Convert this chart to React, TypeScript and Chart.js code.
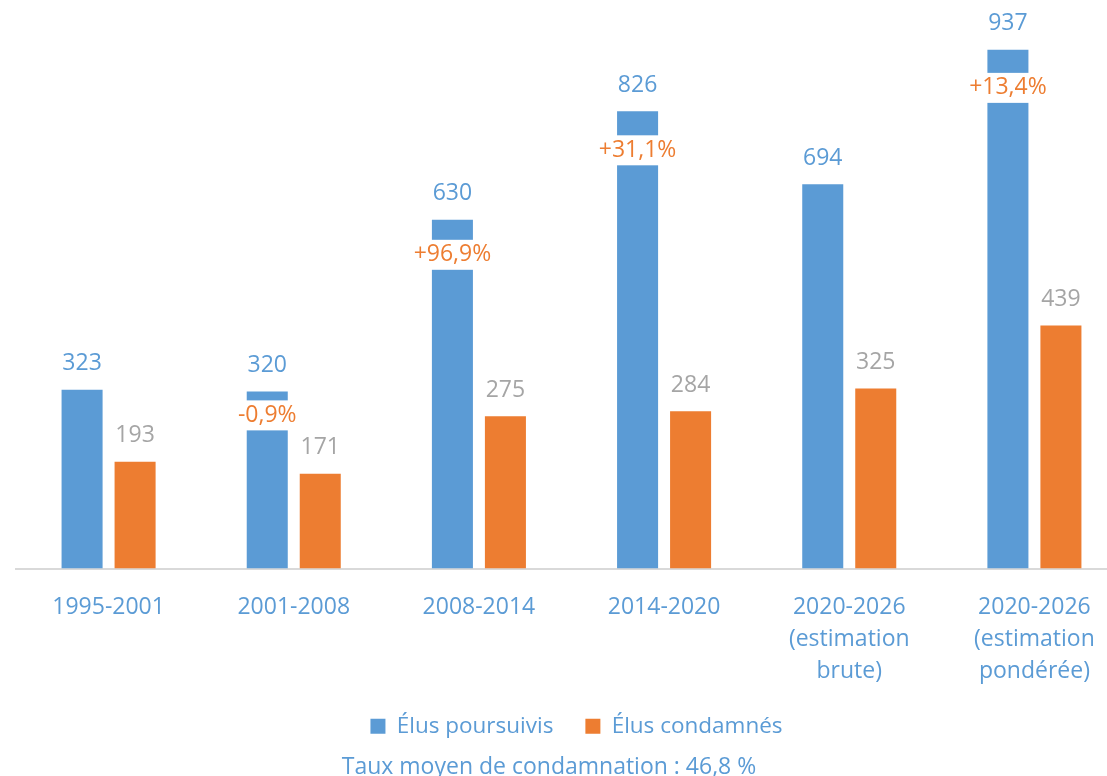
import React, { useEffect, useRef } from "react";
import { Chart, registerables } from "chart.js";

Chart.register(...registerables);

const categories: string[][] = [
  ["1995-2001"],
  ["2001-2008"],
  ["2008-2014"],
  ["2014-2020"],
  ["2020-2026", "(estimation", "brute)"],
  ["2020-2026", "(estimation", "pondérée)"],
];
const poursuivis: number[] = [323, 320, 630, 826, 694, 937];
const condamnes: number[] = [193, 171, 275, 284, 325, 439];
const growthLabels: string[] = ["", "-0,9%", "+96,9%", "+31,1%", "", "+13,4%"];
const seriesNames: string[] = ["Élus poursuivis", "Élus condamnés"];
const subtitleText = "Taux moyen de condamnation : 46,8 %";

// styles
const BLUE = "#5B9BD5";
const ORANGE = "#ED7D31";
const GRAY = "#A5A5A5";
const FONT = '"Open Sans", "Noto Sans", sans-serif';
const FS = 23;
const LEGEND_FS = 22.5;
const LEGEND_PAD = 32;
const growthOffsets: number[] = [0, 24, 35, 39, 0, 38];

const labelPlugin = {
  id: "valueLabels",
  afterLayout(chart: any) {
    const lg = chart.legend;
    if (lg) {
      const h = lg.bottom - lg.top;
      lg.top = 683;
      lg.bottom = 683 + h;
      lg.left += 5;
      lg.right += 5;
    }
  },
  afterDatasetsDraw(chart: any) {
    const ctx = chart.ctx;
    ctx.save();
    ctx.font = `${FS}px ${FONT}`;
    ctx.textAlign = "center";
    ctx.textBaseline = "middle";
    chart.data.datasets.forEach((ds: any, di: number) => {
      const meta = chart.getDatasetMeta(di);
      meta.data.forEach((bar: any, i: number) => {
        ctx.fillStyle = di === 0 ? BLUE : GRAY;
        ctx.fillText(String(ds.data[i]), bar.x, bar.y - 26);
      });
    });
    const meta0 = chart.getDatasetMeta(0);
    growthLabels.forEach((txt, i) => {
      if (!txt) return;
      const bar: any = meta0.data[i];
      const cy = bar.y + growthOffsets[i];
      const w = ctx.measureText(txt).width;
      ctx.fillStyle = "#ffffff";
      ctx.fillRect(bar.x - w / 2 - 2, cy - 15, w + 4, 30);
      ctx.fillStyle = ORANGE;
      ctx.fillText(txt, bar.x, cy);
    });
    ctx.fillStyle = BLUE;
    ctx.fillText(subtitleText, 549, 767);
    ctx.restore();
  },
};

export default function App() {
  const ref = useRef<HTMLCanvasElement | null>(null);
  useEffect(() => {
    if (!ref.current) return;
    const chart = new Chart(ref.current, {
      type: "bar",
      data: {
        labels: categories,
        datasets: [
          {
            label: seriesNames[0],
            data: poursuivis,
            backgroundColor: BLUE,
            categoryPercentage: 0.5725,
            barPercentage: 0.774,
          },
          {
            label: seriesNames[1],
            data: condamnes,
            backgroundColor: ORANGE,
            categoryPercentage: 0.5725,
            barPercentage: 0.774,
          },
        ],
      },
      options: {
        responsive: false,
        animation: false,
        layout: { padding: { left: 16, right: 27, top: 15, bottom: 18 } },
        plugins: {
          legend: {
            position: "bottom",
            labels: {
              color: BLUE,
              font: { family: FONT, size: LEGEND_FS },
              boxWidth: 15,
              boxHeight: 15,
              padding: LEGEND_PAD,
            },
          },
          tooltip: { enabled: false },
        },
        scales: {
          x: {
            grid: { display: false },
            border: { display: true, color: "#D9D9D9", width: 2 },
            ticks: {
              color: BLUE,
              font: { family: FONT, size: FS, lineHeight: 32 / FS },
              padding: 15,
              maxRotation: 0,
              autoSkip: false,
            },
            afterFit(scale: any) {
              scale.height = 125;
            },
          },
          y: { display: false, min: 0, max: 1000 },
        },
      },
      plugins: [labelPlugin],
    });
    return () => chart.destroy();
  }, []);
  return (
    <div
      style={{
        position: "absolute",
        top: 0,
        left: 0,
        width: 1107,
        height: 776,
        overflow: "hidden",
        background: "#ffffff",
      }}
    >
      <canvas ref={ref} width={1154} height={776} style={{ display: "block" }} />
    </div>
  );
}
